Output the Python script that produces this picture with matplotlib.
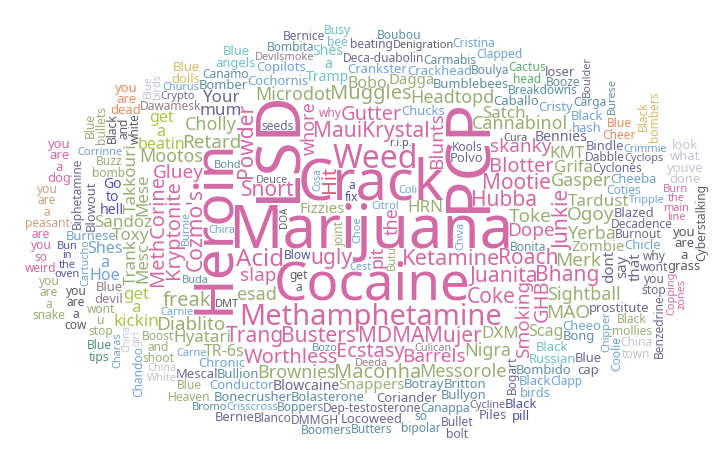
import numpy as np
import matplotlib
matplotlib.use("Agg")
import matplotlib.pyplot as plt

FONT = "Noto Sans"
W, H = 724, 465
CX, CY, AX, AY = 372, 232, 372, 236
SCALE = 1.0
PAD = 1
LS = 0.82

# words, size (em in px), colour code, vertical flag
big_words = ["Marijuana", "Cocaine", "Crack", "Heroin", "PCP", "LSD", "Weed", "Methamphetamine"]
big_freq = [60, 53, 56, 55, 62, 62, 32, 29]
big_color = "PPPPPPPP"
big_vert = "00011100"

mid_words = [
    "Ketamine", "Hubba", "MauiKrystal", "Snort", "Juanita", "Acid",
    "Coke", "MDMA", "Roach", "Mootie", "Cozmo's", "Kryptonite",
    "Junkie", "Busters", "Powder", "Mujer", "Blotter", "Ecstasy",
    "Smoking", "Blunts", "ugly", "Dope", "Gutter", "Trang",
    "Worthless", "skanky", "Bhang", "Barrels", "Gluey", "Hit",
    "the", "pit", "whore", "GHB", "MethCorine", "slap",
    "Muggles", "Maconha", "freak", "Retard", "Headtopd", "esad",
    "Cannabinol", "Merk", "Diablito", "Gasper", "Brownies", "Microdot",
    "Toke", "Yerba", "Ogoy", "Messorole", "Sightball", "Mootos",
    "Cholly", "Hyatari", "Tardust", "Nigra", "Grifa", "Satch",
    "Sandoz", "HRN", "Toxy", "DXM", "MAO", "Mesc",
    "Mese", "Trank", "KMT", "TR-6s", "Takkouri", "Scag",
    "Bobo", "Fizzies", "Snappers", "Zombie", "Dagga", "get\na\nkickin",
    "get\na\nbeatin", "Your\nmum", "Shes\na\nHoe", "dont\nsay\nthat", "Go\nto\nhell", "Shes\na\nTramp",
]
mid_freq = [
    22, 21, 21, 21, 21, 24,
    21, 21, 21, 21, 21, 20,
    21, 21, 21, 21, 20, 20,
    19, 19, 21, 19, 20, 21,
    20, 19, 21, 19, 19, 20,
    18, 18, 18, 20, 20, 19,
    20, 20, 20, 19, 18, 18,
    18, 19, 19, 18, 18, 18,
    19, 18, 19, 18, 18, 18,
    18, 17, 17, 18, 17, 17,
    17, 17, 17, 17, 19, 17,
    17, 17, 17, 16, 17, 16,
    16, 15, 15, 15, 15, 17,
    16, 17, 16, 15, 14, 14,
]
mid_color = ("PPPPPP" "PPPPPP" "PPPPPP" "PPPPPP" "PPPPPR" "PPPPPP"
             "GGGGGG" "GGGGGG" "GGGGGG" "GGGGGG" "GGGGGG" "GGGGGG"
             "GGGGGY" "YVBVNC")
mid_vert = ("000000" "000011" "101000" "110000" "000001" "111110"
            "000000" "000000" "000000" "000000" "000001" "110010"
            "000000" "000100")

small_words = [
    "Bennies", "Blowcaine", "Botray", "Bumblebees", "Chronic", "Polvo",
    "Black\nRussian", "Caballo", "Chucks", "Cochornis", "Crankster", "Britton",
    "Bolasterone", "Bonita", "Bullion", "Cheeo", "seeds", "Coriander",
    "Crackhead", "Conductor", "Cyclones", "Deca-duabolin", "Decadence", "Dep-testosterone",
    "Dabble", "Coties", "Bogart", "joint", "Boost\nand\nshoot", "Burnout",
    "Blue\ndevil", "Blazed", "prostitute", "Bong", "Copilots", "Cristy",
    "Bullyon", "Burnese", "Bomber", "Bombido", "Buzz\nbomb", "Dawamesk",
    "Bindle", "Deuce", "Blowout", "Cheeba", "Bonecrusher", "Chicle",
    "Black\nhash", "Breakdowns", "Boulya", "Mescal", "why\nwont\nyou\nstop", "Cartucho",
    "Chipper", "Choe", "Biphetamine", "Burnie", "Carmabis", "Black\nand\nwhite",
    "Tripple", "Boppers", "Canappa", "Crypto", "China\ngirl", "wont\nu\nstop",
    "Canamo", "Culican", "Deeda", "Bun\nin\nthe\noven", "Black\nbirds", "Cactus\nhead",
    "Black\nmollies", "Devilsmoke", "Carnie", "Corrinne", "Blue\nCheer", "you\nare\na\npeasant",
    "get\na", "Blow", "beating", "a\nfix", "Locoweed", "Blue\nangels",
    "Blue\ncap", "Citrol", "Cyclops", "Denigration", "Burn\nthe\nmain\nline", "Churus",
    "Crisscross", "Blue\nHeaven", "China\nWhite", "Cycline", "you\nare\na\ngrass", "Carga",
    "Kools", "so\nbipolar", "Chira", "you\nare\na\ncow", "Blue\nbullets", "DMMGH",
    "Bombita", "Clapped", "Clapp", "Crimmie", "Booze", "are\nyou\nso\nweird",
    "why", "you\nare\na\ndog", "you\nare\ndead", "Blue\ndolls", "Chandoo", "Coolie",
    "Charas", "Copping\nzones", "Cyberstalking", "Busy\nbee", "Blue\nbirds", "Blanco",
    "Bohd", "Black\npill", "you\nare\na\nsnake", "Benzedrine", "look\nwhat\nyouve\ndone", "Bullet\nbolt",
    "Butters", "Boubou", "Boomers", "Black\nbombers", "China\ntown", "Cristina",
    "Buda", "DMT", "Bozo", "Burese", "Butu", "Cest",
    "Cura", "Bernice", "Piles", "Boulder", "Chiva", "DOA",
    "Carne", "loser", "r.i.p.", "Cosa", "Coli", "Blue\ntips",
    "Bromo", "Bernie",
]
small_freq = [
    14, 14, 13, 13, 13, 13,
    13, 13, 13, 13, 13, 13,
    13, 12, 13, 13, 12, 13,
    13, 13, 12, 12, 12, 12,
    12, 12, 12, 12, 12, 12,
    13, 13, 13, 13, 13, 13,
    13, 13, 13, 13, 12, 12,
    13, 11, 13, 13, 13, 13,
    13, 12, 12, 13, 12, 11,
    11, 11, 12, 11, 12, 12,
    11, 12, 12, 11, 10, 12,
    12, 11, 11, 11, 13, 12,
    12, 11, 11, 11, 12, 12,
    12, 12, 12, 12, 13, 13,
    13, 11, 11, 11, 11, 11,
    11, 12, 11, 11, 13, 12,
    12, 12, 11, 12, 12, 12,
    12, 12, 12, 11, 12, 12,
    12, 13, 13, 13, 12, 12,
    11, 11, 12, 12, 11, 12,
    11, 13, 12, 12, 13, 12,
    12, 12, 12, 12, 12, 12,
    11, 11, 11, 11, 11, 11,
    11, 12, 13, 11, 11, 10,
    11, 13, 11, 10, 11, 12,
    11, 13,
]
small_color = ("VVTTBV" "CTBBBT" "TTTBVV" "BBVVVV" "VBVGGV" "MVVTBB"
               "TBTTGM" "VVVBTB" "BTTVVB" "BBVBTD" "BTTVLG" "TMMNBK"
               "GMBBOE" "DNVNVC" "VBVDPB" "BGLVDT" "VTBDGV" "TBBBTP"
               "PPOWBB" "BPDCLV" "TNGVLV" "TTTWLB" "TDTTGB" "DVVVBD"
               "BVDBBA" "TV")
small_vert = ("000000" "000000" "000000" "000000" "001100" "000000"
              "000000" "001000" "000001" "111101" "000010" "000000"
              "000000" "000000" "000000" "000000" "000010" "000000"
              "000011" "111010" "000100" "000100" "000110" "000111"
              "000100" "00")

palette = {
    "P": "#d36aa6", "R": "#e0567a", "G": "#9aae74", "Y": "#a9c54c",
    "V": "#6c6790", "B": "#70a3d4", "T": "#5d8ea4", "C": "#70c0cb",
    "D": "#5b5a68", "L": "#c7c3d6", "O": "#e88d5e", "N": "#5053a8",
    "M": "#957d8c", "K": "#5fae6c", "E": "#c8a07e", "W": "#d4bc6a",
    "A": "#4f8f7c",
}

words = big_words + mid_words + small_words
freqs = big_freq + mid_freq + small_freq
colors = big_color + mid_color + small_color
verts = big_vert + mid_vert + small_vert

scratch = plt.figure(figsize=(W / 100, H / 100), dpi=100)
scratch.canvas.draw()


def measure(word, px, rot):
    t = scratch.text(0.5, 0.5, word, fontsize=px * 0.72, rotation=rot, ha="center",
                     va="center", family=FONT, linespacing=LS, multialignment="center")
    scratch.canvas.draw()
    img = np.asarray(scratch.canvas.buffer_rgba())[:, :, 0].copy()
    t.remove()
    ink = img < 215
    rows = np.where(ink.any(1))[0]
    cols = np.where(ink.any(0))[0]
    r0, r1, c0, c1 = rows[0], rows[-1] + 1, cols[0], cols[-1] + 1
    return ink[r0:r1, c0:c1], r0 - H / 2, c0 - W / 2


yy, xx = np.mgrid[0:H, 0:W]
occ = ((xx + 0.5 - CX) / AX) ** 2 + ((yy + 0.5 - CY) / AY) ** 2 > 1

placed = []
for word, fq, col, v in zip(words, freqs, colors, verts):
    rot = 90 if v == "1" else 0
    px = fq * SCALE
    while px >= 8:
        m, dr, dc = measure(word, px, rot)
        h, w = m.shape
        hh, ww = h + 2 * PAD, w + 2 * PAD
        if hh >= H or ww >= W:
            px *= 0.9
            continue
        S = np.zeros((H + 1, W + 1), np.int32)
        S[1:, 1:] = occ.cumsum(0).cumsum(1)
        tot = S[hh:, ww:] - S[:-hh, ww:] - S[hh:, :-ww] + S[:-hh, :-ww]
        free = tot == 0
        if free.any():
            ys = np.arange(free.shape[0])[:, None] + hh / 2
            xs = np.arange(free.shape[1])[None, :] + ww / 2
            # slight preference for the left side when two spots are equally close
            ax = np.where(xs < CX, AX * 1.04, AX)
            d = ((xs - CX) / ax) ** 2 + ((ys - CY) / AY) ** 2
            d = np.where(free, d, np.inf)
            y, x = np.unravel_index(np.argmin(d), d.shape)
            occ[y + PAD:y + PAD + h, x + PAD:x + PAD + w] |= m
            ar = y + PAD - dr
            ac = x + PAD - dc
            placed.append((word, px, rot, palette[col], ac / W, 1 - ar / H))
            break
        px *= 0.9

plt.close(scratch)

fig = plt.figure(figsize=(W / 100, H / 100), dpi=100)
fig.patch.set_facecolor("white")
for word, px, rot, col, fx, fy in placed:
    fig.text(fx, fy, word, fontsize=px * 0.72, rotation=rot, ha="center", va="center",
             family=FONT, linespacing=LS, multialignment="center", color=col)
fig.savefig("out.png", dpi=100, facecolor="white")
